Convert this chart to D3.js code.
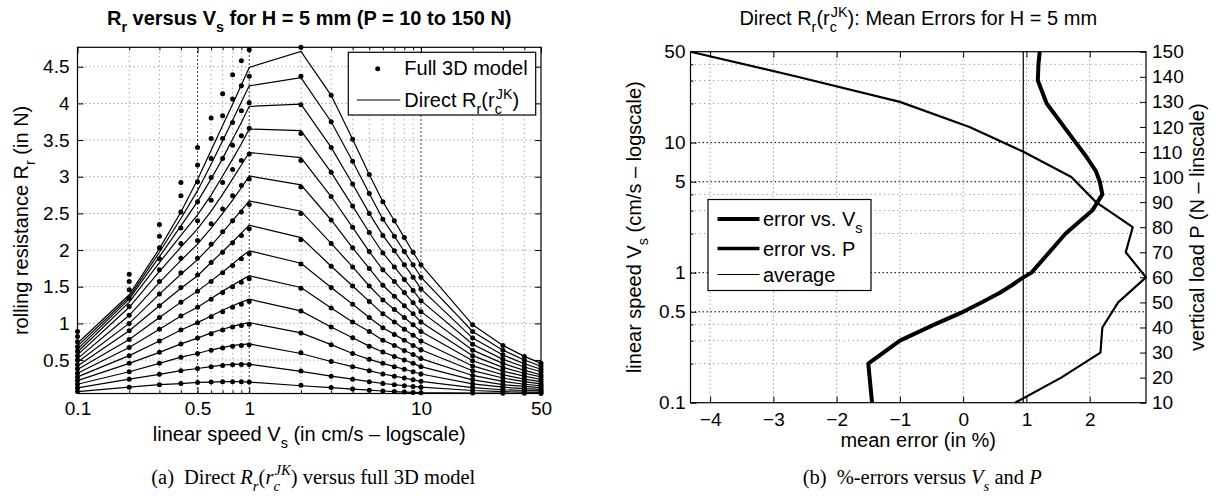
<!DOCTYPE html>
<html><head><meta charset="utf-8">
<script src="https://cdn.jsdelivr.net/npm/d3@7"></script>
<style>
body{margin:0;background:#fff}
svg{display:block}
text{fill:#000}
</style>
</head><body>
<svg id="chart" width="1215" height="496"></svg>
<script>
// ---------------- data: left panel ----------------
const speeds = [0.1,0.2,0.3,0.4,0.5,0.6,0.7,0.8,0.9,1,2,3,4,5,6,7,8,9,10,20,30,40,50];
const loads = [10,20,30,40,50,60,70,80,90,100,110,120,130,140,150];

// Direct Rr(rc^JK) model (lines), one array per load P (N)
const direct10  = [0.07,0.13,0.165,0.18,0.195,0.20,0.205,0.205,0.205,0.20, 0.15,0.125,0.105,0.09,0.078,0.07,0.064,0.059,0.055, 0.05,0.048,0.046,0.044];
const direct20  = [0.12,0.24,0.305,0.355,0.385,0.41,0.43,0.44,0.445,0.445, 0.345,0.28,0.24,0.205,0.18,0.165,0.15,0.14,0.13, 0.085,0.07,0.062,0.06];
const direct30  = [0.17,0.34,0.455,0.54,0.59,0.64,0.67,0.70,0.71,0.72, 0.59,0.48,0.41,0.355,0.31,0.28,0.255,0.23,0.21, 0.125,0.095,0.085,0.08];
const direct40  = [0.22,0.455,0.605,0.72,0.80,0.87,0.92,0.96,0.99,1.01, 0.87,0.71,0.59,0.51,0.455,0.41,0.375,0.34,0.31, 0.175,0.13,0.11,0.10];
const direct50  = [0.27,0.56,0.76,0.91,1.01,1.10,1.18,1.24,1.29,1.33, 1.17,0.95,0.805,0.69,0.61,0.55,0.50,0.455,0.41, 0.23,0.165,0.14,0.125];
const direct60  = [0.32,0.67,0.92,1.10,1.22,1.34,1.44,1.52,1.59,1.65, 1.49,1.21,1.02,0.89,0.77,0.70,0.63,0.575,0.52, 0.29,0.21,0.17,0.15];
const direct70  = [0.37,0.78,1.08,1.29,1.44,1.58,1.70,1.81,1.91,1.99, 1.82,1.49,1.26,1.08,0.94,0.85,0.77,0.70,0.64, 0.355,0.255,0.205,0.175];
const direct80  = [0.42,0.90,1.24,1.48,1.65,1.83,1.98,2.11,2.23,2.34, 2.17,1.78,1.51,1.30,1.13,1.02,0.92,0.84,0.76, 0.42,0.30,0.24,0.205];
const direct90  = [0.47,1.00,1.40,1.67,1.87,2.06,2.24,2.40,2.54,2.67, 2.53,2.09,1.77,1.51,1.32,1.19,1.08,0.98,0.89, 0.49,0.35,0.28,0.235];
const direct100 = [0.52,1.11,1.56,1.86,2.08,2.30,2.50,2.68,2.85,3.01, 2.89,2.41,2.03,1.75,1.52,1.37,1.24,1.13,1.02, 0.56,0.40,0.32,0.27];
const direct110 = [0.57,1.22,1.71,2.04,2.29,2.53,2.76,2.97,3.16,3.33, 3.26,2.73,2.31,1.98,1.73,1.57,1.42,1.28,1.16, 0.635,0.455,0.36,0.30];
const direct120 = [0.61,1.29,1.83,2.20,2.48,2.75,3.01,3.24,3.45,3.65, 3.63,3.06,2.60,2.24,1.96,1.77,1.60,1.45,1.31, 0.715,0.51,0.405,0.34];
const direct130 = [0.65,1.33,1.91,2.33,2.66,2.97,3.25,3.51,3.74,3.96, 3.99,3.40,2.90,2.50,2.20,1.99,1.80,1.63,1.47, 0.80,0.57,0.45,0.375];
const direct140 = [0.69,1.36,1.97,2.43,2.81,3.17,3.49,3.77,4.02,4.24, 4.35,3.75,3.21,2.77,2.42,2.19,1.98,1.80,1.63, 0.89,0.635,0.50,0.415];
const direct150 = [0.73,1.39,2.02,2.52,2.96,3.36,3.70,3.99,4.25,4.49, 4.71,4.11,3.51,3.03,2.66,2.40,2.17,1.97,1.80, 0.98,0.70,0.55,0.455];

// Full 3D model (dots), one array per load P (N)
const full10  = [0.07,0.13,0.165,0.18,0.195,0.20,0.205,0.205,0.205,0.20, 0.155,0.125,0.105,0.09,0.078,0.07,0.064,0.059,0.055, 0.05,0.048,0.046,0.044];
const full20  = [0.12,0.24,0.305,0.355,0.385,0.41,0.425,0.435,0.44,0.44, 0.35,0.28,0.24,0.205,0.18,0.165,0.15,0.14,0.13, 0.085,0.07,0.062,0.06];
const full30  = [0.17,0.34,0.455,0.54,0.59,0.635,0.665,0.69,0.70,0.71, 0.60,0.48,0.41,0.355,0.31,0.28,0.255,0.23,0.21, 0.125,0.095,0.085,0.08];
const full40  = [0.22,0.455,0.605,0.72,0.80,0.86,0.91,0.95,0.97,0.99, 0.87,0.71,0.59,0.51,0.455,0.41,0.375,0.34,0.31, 0.175,0.13,0.11,0.10];
const full50  = [0.27,0.56,0.76,0.91,1.01,1.09,1.16,1.22,1.26,1.30, 1.17,0.95,0.805,0.69,0.61,0.55,0.50,0.455,0.41, 0.23,0.165,0.14,0.125];
const full60  = [0.32,0.67,0.92,1.10,1.22,1.33,1.42,1.50,1.56,1.61, 1.48,1.21,1.02,0.89,0.77,0.70,0.63,0.575,0.52, 0.29,0.21,0.17,0.15];
const full70  = [0.38,0.78,1.08,1.29,1.44,1.57,1.69,1.79,1.88,1.95, 1.81,1.49,1.26,1.08,0.94,0.85,0.77,0.70,0.64, 0.355,0.255,0.205,0.175];
const full80  = [0.44,0.90,1.24,1.49,1.66,1.83,1.97,2.10,2.20,2.29, 2.14,1.78,1.51,1.30,1.13,1.02,0.92,0.84,0.76, 0.42,0.30,0.24,0.205];
const full90  = [0.50,1.00,1.40,1.69,1.89,2.08,2.25,2.40,2.52,2.62, 2.50,2.09,1.77,1.51,1.32,1.19,1.08,0.98,0.89, 0.49,0.35,0.28,0.235];
const full100 = [0.56,1.11,1.57,1.89,2.13,2.36,2.56,2.74,2.88,2.97, 2.86,2.41,2.03,1.75,1.52,1.37,1.24,1.13,1.02, 0.56,0.40,0.32,0.27];
const full110 = [0.62,1.23,1.73,2.09,2.40,2.68,2.92,3.10,3.22,3.31, 3.22,2.73,2.31,1.98,1.73,1.57,1.42,1.28,1.16, 0.635,0.455,0.36,0.30];
const full120 = [0.68,1.34,1.88,2.30,2.66,2.99,3.25,3.43,3.56,3.66, 3.59,3.06,2.60,2.24,1.96,1.77,1.60,1.45,1.31, 0.715,0.51,0.405,0.34];
const full130 = [0.75,1.46,2.03,2.52,2.93,3.25,3.52,3.74,3.90,4.01, 3.98,3.40,2.90,2.50,2.20,1.99,1.80,1.63,1.47, 0.80,0.57,0.45,0.375];
const full140 = [0.82,1.57,2.19,2.74,3.16,3.52,3.83,4.06,4.24,4.37, 4.37,3.75,3.21,2.77,2.42,2.19,1.98,1.80,1.63, 0.89,0.635,0.50,0.415];
const full150 = [0.89,1.67,2.35,2.92,3.40,3.80,4.13,4.39,4.58,4.73, 4.765,4.11,3.51,3.03,2.66,2.40,2.17,1.97,1.80, 0.98,0.70,0.55,0.455];

const leftXTicks = [0.1,0.5,1,10,50];
const leftXMinor = [0.2,0.3,0.4,0.6,0.7,0.8,0.9,2,3,4,5,6,7,8,9,20,30,40];
const leftYTicks = [0.5,1,1.5,2,2.5,3,3.5,4,4.5];

// ---------------- data: right panel ----------------
const errVsSpeed = [-1.44,-1.50,-1.00,-0.45,0.0,0.32,0.58,0.77,0.92,1.08,1.62,2.04,2.20,2.16,2.10,2.01,1.93,1.85,1.78,1.32,1.18,1.19,1.21];
const errVsLoad = [0.82,1.55,2.17,2.20,2.45,2.89,2.57,2.68,2.10,1.71,0.96,0.10,-1.00,-2.62,-4.31];
const avgError = 0.95;
const rightXTicks = [-4,-3,-2,-1,0,1,2];
const rightYTicks = [0.1,0.5,1,5,10,50];
const rightYMinor = [0.2,0.3,0.4,2,3,4,20,30,40];
const rightPTicks = loads;

// ---------------- helpers ----------------
const SANS = '"Liberation Sans", Arial, Helvetica, sans-serif';
const SERIF = '"Liberation Serif", "Times New Roman", serif';
const svg = d3.select("#chart");

function parse(str){
  const segs=[]; const re=/(_\{[^}]*\}|\^\{[^}]*\}|[^_^]+)/g; let m;
  while((m=re.exec(str))){
    const tok=m[1];
    if(tok[0]==='_') segs.push({t:tok.slice(2,-1),k:'sub'});
    else if(tok[0]==='^'){ const prev=segs[segs.length-1]; segs.push({t:tok.slice(2,-1),k:(prev&&prev.k==='sub')?'supstack':'sup'}); }
    else segs.push({t:tok,k:'n'});
  }
  return segs;
}
function rich(sel, segs, size){
  let off=0, lastSub=null;
  segs.forEach(s=>{
    const ts=sel.append("tspan").text(s.t);
    let target=0, fs=size;
    if(s.k==='sub'){target=0.33*size; fs=0.72*size;}
    if(s.k==='sup'||s.k==='supstack'){target=-0.42*size; fs=0.72*size;}
    ts.attr("font-size",fs);
    if(target-off!==0) ts.attr("dy",target-off);
    off=target;
    if(s.i) ts.attr("font-style","italic");
    if(s.dx) ts.attr("dx",s.dx);
    if(s.k==='supstack'&&lastSub) ts.attr("dx",-lastSub.node().getComputedTextLength()*0.85);
    lastSub = s.k==='sub'?ts:null;
  });
}
function label(x,y,str,opt={}){
  const t=svg.append("text").attr("x",x).attr("y",y)
    .attr("font-family",opt.family||SANS).attr("font-size",opt.size||20)
    .attr("text-anchor",opt.anchor||"middle");
  if(opt.bold) t.attr("font-weight","bold");
  if(opt.rotate) t.attr("transform",`rotate(${opt.rotate},${x},${y})`);
  rich(t, typeof str==='string'?parse(str):str, opt.size||20);
  return t;
}
function styleAxis(g,size){
  g.attr("font-family",SANS).attr("font-size",size);
  g.select(".domain").remove();
  g.selectAll(".tick line").attr("stroke","#000").attr("stroke-width",1);
  g.selectAll(".tick text").attr("fill","#000");
}

// ---------------- left panel ----------------
const L={x0:77.5,x1:541,y0:47.3,y1:393.5};
const allLeft=[direct10,direct20,direct30,direct40,direct50,direct60,direct70,direct80,direct90,direct100,direct110,direct120,direct130,direct140,direct150];
const allFull=[full10,full20,full30,full40,full50,full60,full70,full80,full90,full100,full110,full120,full130,full140,full150];
const xL=d3.scaleLog().domain(d3.extent(speeds)).range([L.x0,L.x1]);
const yL=d3.scaleLinear().domain(d3.extent(allLeft.concat(allFull).flat())).range([L.y1,L.y0]);

const gl=svg.append("g");
gl.selectAll(".hg").data(leftYTicks).join("line")
  .attr("x1",L.x0).attr("x2",L.x1).attr("y1",d=>yL(d)).attr("y2",d=>yL(d))
  .attr("stroke","#777").attr("stroke-width",1).attr("stroke-dasharray","1,3");
gl.selectAll(".vm").data(leftXMinor).join("line")
  .attr("x1",d=>xL(d)).attr("x2",d=>xL(d)).attr("y1",L.y0).attr("y2",L.y1)
  .attr("stroke","#888").attr("stroke-width",1).attr("stroke-dasharray","1,3.5");
gl.selectAll(".vM").data(leftXTicks.filter(d=>d>0.1&&d<50)).join("line")
  .attr("x1",d=>xL(d)).attr("x2",d=>xL(d)).attr("y1",L.y0).attr("y2",L.y1)
  .attr("stroke","#000").attr("stroke-width",1).attr("stroke-dasharray","1.5,2.5");

const fmt=d=>String(d);
let ax;
ax=gl.append("g").attr("transform",`translate(0,${L.y1})`).call(d3.axisBottom(xL).tickValues(leftXTicks).tickFormat(fmt).tickSize(-6).tickSizeOuter(0).tickPadding(8)); styleAxis(ax,19);
ax=gl.append("g").attr("transform",`translate(0,${L.y1})`).call(d3.axisBottom(xL).tickValues(leftXMinor).tickFormat("").tickSize(-3).tickSizeOuter(0)); styleAxis(ax,19);
ax=gl.append("g").attr("transform",`translate(0,${L.y0})`).call(d3.axisTop(xL).tickValues(leftXTicks).tickFormat("").tickSize(-6).tickSizeOuter(0)); styleAxis(ax,19);
ax=gl.append("g").attr("transform",`translate(0,${L.y0})`).call(d3.axisTop(xL).tickValues(leftXMinor).tickFormat("").tickSize(-3).tickSizeOuter(0)); styleAxis(ax,19);
ax=gl.append("g").attr("transform",`translate(${L.x0},0)`).call(d3.axisLeft(yL).tickValues(leftYTicks).tickFormat(fmt).tickSize(-6).tickSizeOuter(0).tickPadding(8)); styleAxis(ax,19);
ax=gl.append("g").attr("transform",`translate(${L.x1},0)`).call(d3.axisRight(yL).tickValues(leftYTicks).tickFormat("").tickSize(-6).tickSizeOuter(0)); styleAxis(ax,19);

const lineL=d3.line().x((d,i)=>xL(speeds[i])).y(d=>yL(d));
gl.selectAll(".model").data(allLeft).join("path")
  .attr("d",lineL).attr("fill","none").attr("stroke","#000").attr("stroke-width",1.2);
allFull.forEach(arr=>{
  gl.append("g").selectAll("circle").data(arr).join("circle")
    .attr("cx",(d,i)=>xL(speeds[i])).attr("cy",d=>yL(d)).attr("r",2.5).attr("fill","#000");
});
gl.append("rect").attr("x",L.x0).attr("y",L.y0).attr("width",L.x1-L.x0).attr("height",L.y1-L.y0)
  .attr("fill","none").attr("stroke","#000").attr("stroke-width",1.2);

const lg={x:348.3,y:52.3,w:187.4,h:62.7};
gl.append("rect").attr("x",lg.x).attr("y",lg.y).attr("width",lg.w).attr("height",lg.h).attr("fill","#fff").attr("stroke","#000").attr("stroke-width",1.2);
gl.append("circle").attr("cx",lg.x+29.4).attr("cy",lg.y+16.4).attr("r",2.5).attr("fill","#000");
gl.append("line").attr("x1",lg.x+8.4).attr("x2",lg.x+52).attr("y1",lg.y+47.7).attr("y2",lg.y+47.7).attr("stroke","#000").attr("stroke-width",1.2);
label(lg.x+56,lg.y+23,"Full 3D model",{anchor:"start"});
label(lg.x+56,lg.y+55,"Direct R_{r}(r_{c}^{JK})",{anchor:"start"});

label((L.x0+L.x1)/2,25,"R_{r} versus V_{s} for H = 5 mm (P = 10 to 150 N)",{bold:true});
label((L.x0+L.x1)/2,441,"linear speed V_{s} (in cm/s – logscale)");
label(28,(L.y0+L.y1)/2,"rolling resistance R_{r} (in N)",{rotate:-90});
label((L.x0+L.x1)/2+4,484,[{t:"(a)"},{t:"Direct ",dx:10},{t:"R",i:1},{t:"r",k:"sub",i:1},{t:"("},{t:"r",i:1},{t:"c",k:"sub",i:1},{t:"JK",k:"supstack",i:1},{t:") versus full 3D model"}],{family:SERIF,size:20.5});

// ---------------- right panel ----------------
const R={x0:690.5,x1:1146,y0:51.7,y1:402.7};
const xR=d3.scaleLinear().domain(d3.extent(errVsSpeed.concat(errVsLoad))).range([R.x0,R.x1]);
const yS=d3.scaleLog().domain(d3.extent(speeds)).range([R.y1,R.y0]);
const yP=d3.scaleLinear().domain(d3.extent(loads)).range([R.y1,R.y0]);
const gr=svg.append("g");
gr.selectAll(".vg").data(rightXTicks).join("line")
  .attr("x1",d=>xR(d)).attr("x2",d=>xR(d)).attr("y1",R.y0).attr("y2",R.y1)
  .attr("stroke","#777").attr("stroke-width",1).attr("stroke-dasharray","1,3");
gr.selectAll(".hm").data(rightYMinor).join("line")
  .attr("x1",R.x0).attr("x2",R.x1).attr("y1",d=>yS(d)).attr("y2",d=>yS(d))
  .attr("stroke","#888").attr("stroke-width",1).attr("stroke-dasharray","1,3.5");
gr.selectAll(".hM").data(rightYTicks.filter(d=>d>0.1&&d<50)).join("line")
  .attr("x1",R.x0).attr("x2",R.x1).attr("y1",d=>yS(d)).attr("y2",d=>yS(d))
  .attr("stroke","#000").attr("stroke-width",1).attr("stroke-dasharray","1.5,2.5");

ax=gr.append("g").attr("transform",`translate(0,${R.y1})`).call(d3.axisBottom(xR).tickValues(rightXTicks).tickFormat(d3.format("d")).tickSize(-6).tickSizeOuter(0).tickPadding(10)); styleAxis(ax,19);
ax=gr.append("g").attr("transform",`translate(0,${R.y0})`).call(d3.axisTop(xR).tickValues(rightXTicks).tickFormat("").tickSize(-6).tickSizeOuter(0)); styleAxis(ax,19);
ax=gr.append("g").attr("transform",`translate(${R.x0},0)`).call(d3.axisLeft(yS).tickValues(rightYTicks).tickFormat(fmt).tickSize(-6).tickSizeOuter(0).tickPadding(5)); styleAxis(ax,19);
ax=gr.append("g").attr("transform",`translate(${R.x0},0)`).call(d3.axisLeft(yS).tickValues(rightYMinor).tickFormat("").tickSize(-3).tickSizeOuter(0)); styleAxis(ax,19);
ax=gr.append("g").attr("transform",`translate(${R.x1},0)`).call(d3.axisRight(yP).tickValues(rightPTicks).tickFormat(fmt).tickSize(-6).tickSizeOuter(0).tickPadding(6)); styleAxis(ax,19);

gr.append("line").attr("x1",xR(avgError)).attr("x2",xR(avgError)).attr("y1",R.y0).attr("y2",R.y1).attr("stroke","#000").attr("stroke-width",1.2);
gr.append("path").attr("d",d3.line().x(d=>xR(d)).y((d,i)=>yP(loads[i]))(errVsLoad))
  .attr("fill","none").attr("stroke","#000").attr("stroke-width",2.2).attr("stroke-linejoin","round");
gr.append("path").attr("d",d3.line().x(d=>xR(d)).y((d,i)=>yS(speeds[i]))(errVsSpeed))
  .attr("fill","none").attr("stroke","#000").attr("stroke-width",4).attr("stroke-linejoin","round");
gr.append("rect").attr("x",R.x0).attr("y",R.y0).attr("width",R.x1-R.x0).attr("height",R.y1-R.y0)
  .attr("fill","none").attr("stroke","#000").attr("stroke-width",1.2);

const rg={x:708,y:199.5,w:163,h:91};
gr.append("rect").attr("x",rg.x).attr("y",rg.y).attr("width",rg.w).attr("height",rg.h).attr("fill","#fff").attr("stroke","#000").attr("stroke-width",1.2);
[[19.5,4,"error vs. V_{s}"],[49,3.5,"error vs. P"],[75,1.2,"average"]].forEach(([dy,w,txt])=>{
  gr.append("line").attr("x1",rg.x+9.5).attr("x2",rg.x+51.5).attr("y1",rg.y+dy).attr("y2",rg.y+dy).attr("stroke","#000").attr("stroke-width",w);
  label(rg.x+55,rg.y+dy+7,txt,{anchor:"start"});
});

label((R.x0+R.x1)/2,25,"Direct R_{r}(r_{c}^{JK}): Mean Errors for H = 5 mm");
label((R.x0+R.x1)/2,447,"mean error (in %)");
label(641,(R.y0+R.y1)/2,"linear speed V_{s} (cm/s – logscale)",{rotate:-90});
label(1204,(R.y0+R.y1)/2,"vertical load P (N – linscale)",{rotate:-90});
label((R.x0+R.x1)/2+4,484,[{t:"(b)"},{t:"%-errors versus ",dx:10},{t:"V",i:1},{t:"s",k:"sub",i:1},{t:" and "},{t:"P",i:1}],{family:SERIF,size:20.5});
</script>
</body></html>
